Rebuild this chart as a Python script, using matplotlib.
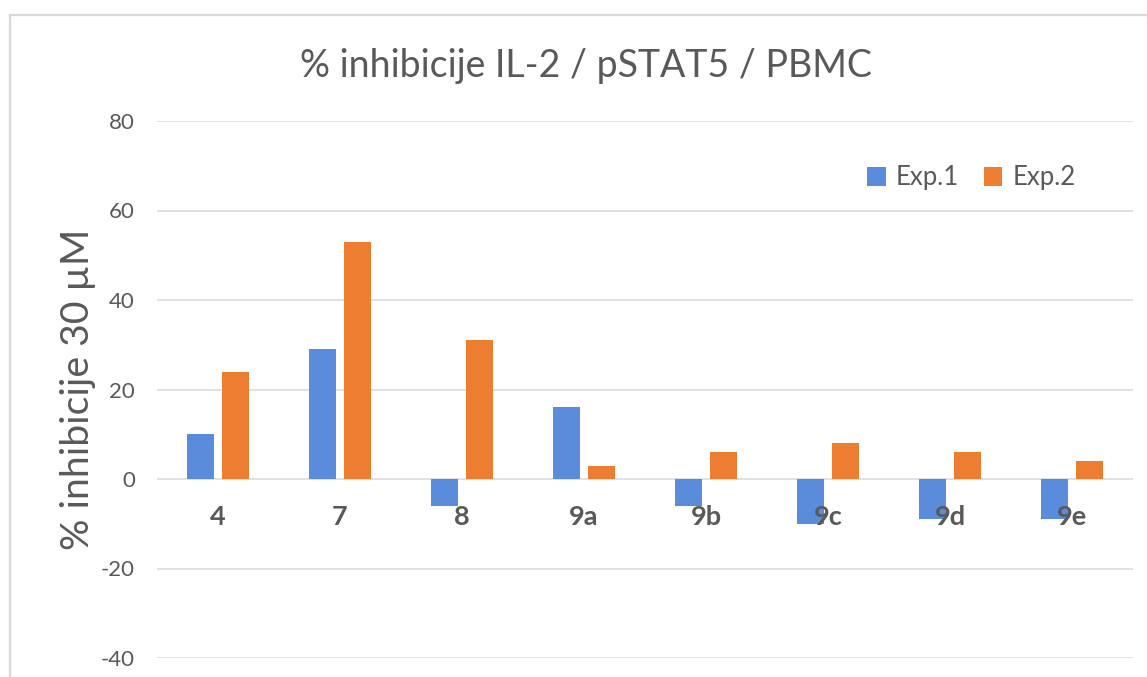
import matplotlib
matplotlib.use("Agg")
import matplotlib.pyplot as plt
import numpy as np
from matplotlib.lines import Line2D

# Data
categories = ["4", "7", "8", "9a", "9b", "9c", "9d", "9e"]
exp1 = [10, 29, -6, 16, -6, -10, -9, -9]
exp2 = [24, 53, 31, 3, 6, 8, 6, 4]
series_names = ["Exp.1", "Exp.2"]
y_ticks = [-40, -20, 0, 20, 40, 60, 80]

title = "% inhibicije IL-2 / pSTAT5 / PBMC"
y_label = "% inhibicije 30 µM"

blue = "#5B8CDC"
orange = "#ED7D31"
text_grey = "#595959"
grid_grey = "#D9D9D9"

plt.rcParams["font.family"] = ["Lato", "DejaVu Sans"]

W, H = 1147, 677
fig = plt.figure(figsize=(W / 100, H / 100), dpi=100)
fig.patch.set_facecolor("white")

ax = fig.add_axes([157 / W, 1 - 658 / H, (1133 - 157) / W, (658 - 121) / H])

x = np.arange(len(categories))
bw = 0.226
off = 0.143
ax.bar(x - off, exp1, width=bw, color=blue, label=series_names[0], zorder=2)
ax.bar(x + off, exp2, width=bw, color=orange, label=series_names[1], zorder=2)

ax.set_xlim(-0.5, len(categories) - 0.5)
ax.set_ylim(-40, 80)
ax.set_yticks(y_ticks)
ax.set_yticklabels([str(t) for t in y_ticks], fontsize=16, color=text_grey)
ax.tick_params(axis="y", length=0, pad=16)

ax.grid(axis="y", color=grid_grey, linewidth=1.1)
ax.set_axisbelow(True)

for s in ["top", "right", "left"]:
    ax.spines[s].set_visible(False)
ax.spines["bottom"].set_position(("data", 0))
ax.spines["bottom"].set_visible(False)

ax.set_xticks(x)
ax.set_xticklabels(categories, fontsize=19.5, fontweight="bold", color=text_grey)
ax.tick_params(axis="x", length=0, pad=19)
# category labels sit on top of the negative bars
ax.xaxis.set_zorder(3)

fig.text(585.5 / W, 1 - 66 / H, title, fontsize=27, color=text_grey,
         ha="center", va="center")
fig.text(78 / W, 1 - 389 / H, y_label, fontsize=28.3, color=text_grey,
         ha="center", va="center", rotation=90)

leg = ax.legend(loc="center", bbox_to_anchor=(971.5 / W, 1 - 178 / H),
                bbox_transform=fig.transFigure, ncol=2, frameon=False,
                fontsize=18.5, handlelength=0.72, handleheight=0.72,
                handletextpad=0.4, columnspacing=0.95, labelcolor=text_grey)

# chart area border (left and top edges)
fig.add_artist(Line2D([10 / W, 10 / W], [0, 1 - 15 / H], transform=fig.transFigure,
                      color=grid_grey, linewidth=1.6))
fig.add_artist(Line2D([10 / W, 1], [1 - 15 / H, 1 - 15 / H], transform=fig.transFigure,
                      color=grid_grey, linewidth=1.6))

fig.savefig("out.png", dpi=100)
